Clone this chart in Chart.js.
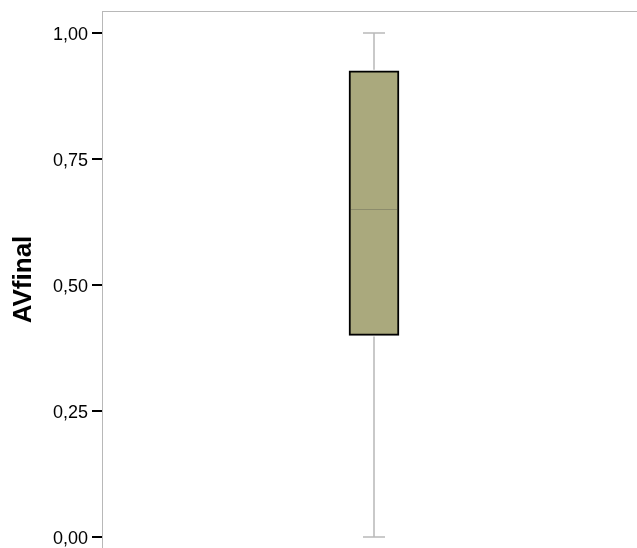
<!DOCTYPE html>
<html>
<head>
<meta charset="utf-8">
<script src="https://cdn.jsdelivr.net/npm/chart.js@4.4.1/dist/chart.umd.min.js"></script>
<style>
  html, body { margin: 0; padding: 0; background: #fff; overflow: hidden; }
  #wrap { width: 646px; height: 548px; position: relative; }
</style>
</head>
<body>
<div id="wrap"><canvas id="c"></canvas></div>
<script>
// ---- data ----
const categories = [''];
const boxLow = [0.40];      // Q1
const boxHigh = [0.925];    // Q3
const medians = [0.65];
const whiskerMin = [0.0];
const whiskerMax = [1.0];
const tickValues = [0, 0.25, 0.5, 0.75, 1.0];
const tickLabels = ['0,00', '0,25', '0,50', '0,75', '1,00'];
const axisTitle = 'AVfinal';

const boxPlugin = {
  id: 'boxExtras',
  afterDatasetsDraw(chart) {
    const ctx = chart.ctx;
    const y = chart.scales.y;
    const meta = chart.getDatasetMeta(0);
    ctx.save();
    meta.data.forEach((bar, i) => {
      const cx = bar.x;
      const half = bar.width / 2;
      // whiskers
      ctx.strokeStyle = '#c9c9c9';
      ctx.lineWidth = 2;
      ctx.beginPath();
      ctx.moveTo(cx, y.getPixelForValue(boxHigh[i]) - 1);
      ctx.lineTo(cx, y.getPixelForValue(whiskerMax[i]));
      ctx.moveTo(cx, y.getPixelForValue(boxLow[i]) + 1);
      ctx.lineTo(cx, y.getPixelForValue(whiskerMin[i]));
      ctx.stroke();
      ctx.strokeStyle = '#b9b9b9';
      ctx.lineWidth = 1.5;
      ctx.beginPath();
      [whiskerMax[i], whiskerMin[i]].forEach(v => {
        const py = y.getPixelForValue(v);
        ctx.moveTo(cx - 11, py);
        ctx.lineTo(cx + 11, py);
      });
      ctx.stroke();
      // median
      ctx.strokeStyle = '#8c8c6c';
      ctx.lineWidth = 1;
      ctx.beginPath();
      const my = Math.round(y.getPixelForValue(medians[i])) + 0.5;
      ctx.moveTo(cx - half + 2, my);
      ctx.lineTo(cx + half - 2, my);
      ctx.stroke();
    });
    // top frame line
    const a = chart.chartArea;
    ctx.strokeStyle = '#b8b8b8';
    ctx.lineWidth = 1;
    ctx.beginPath();
    ctx.moveTo(a.left, a.top + 0.5);
    ctx.lineTo(a.right, a.top + 0.5);
    ctx.stroke();
    ctx.restore();
  }
};

new Chart(document.getElementById('c'), {
  type: 'bar',
  data: {
    labels: categories,
    datasets: [{
      data: boxLow.map((lo, i) => [lo, boxHigh[i]]),
      backgroundColor: '#aaa97d',
      borderColor: '#000000',
      borderWidth: 2,
      borderSkipped: false,
      barThickness: 50
    }]
  },
  plugins: [boxPlugin],
  options: {
    responsive: true,
    maintainAspectRatio: false,
    animation: false,
    layout: { padding: { top: 11, bottom: 0, left: 0, right: 0 } },
    plugins: { legend: { display: false }, tooltip: { enabled: false } },
    scales: {
      x: { display: false },
      y: {
        min: -0.0218,
        max: 1.0437,
        afterBuildTicks(scale) {
          scale.ticks = tickValues.map(v => ({ value: v }));
        },
        afterFit(scale) {
          scale.width = 102;
          scale.paddingTop = 0;
          scale.paddingBottom = 0;
        },
        ticks: {
          callback: (v, i) => tickLabels[i],
          color: '#000',
          font: { family: '"Liberation Sans", Arial, sans-serif', size: 18 },
          padding: 4,
          labelOffset: 2
        },
        grid: {
          drawOnChartArea: false,
          color: '#000',
          lineWidth: 2,
          tickLength: 10
        },
        border: { color: '#b8b8b8', width: 1 },
        title: {
          display: true,
          text: axisTitle,
          color: '#000',
          font: { family: '"Liberation Sans", Arial, sans-serif', size: 26, weight: 'bold' },
          padding: { top: 8, bottom: 0 }
        }
      }
    }
  }
});
</script>
</body>
</html>
